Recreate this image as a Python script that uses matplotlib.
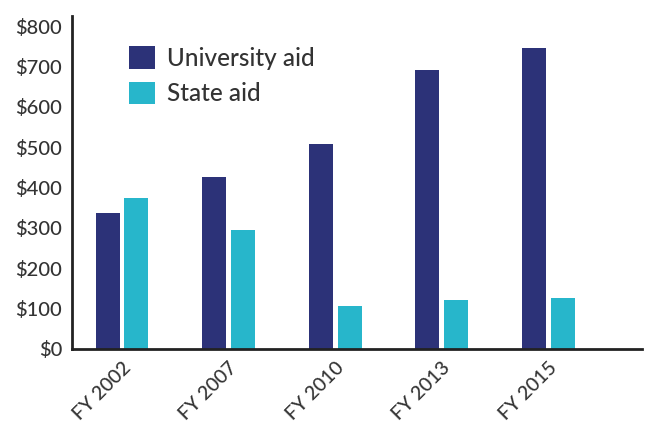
import numpy as np
import matplotlib.pyplot as plt

years = ['FY 2002', 'FY 2007', 'FY 2010', 'FY 2013', 'FY 2015']
university_aid = [337, 427, 509, 691, 746]
state_aid = [374, 294, 107, 122, 127]
y_ticks = [0, 100, 200, 300, 400, 500, 600, 700, 800]

navy = '#2c3278'
cyan = '#27b6cb'
text_color = '#333333'

plt.rcParams['font.family'] = ['Lato', 'DejaVu Sans']

fig = plt.figure(figsize=(6.49, 4.24), dpi=100)
ax = fig.add_axes([72 / 649, 1 - 349 / 424, (642 - 72) / 649, (349 - 16) / 424])

x = np.arange(len(years))
width = 0.225
offset = 0.135
ax.bar(x - offset, university_aid, width, color=navy, label='University aid')
ax.bar(x + offset, state_aid, width, color=cyan, label='State aid')

ax.set_xlim(-0.47, 4.88)
ax.set_ylim(0, 825)
ax.set_yticks(y_ticks)
ax.set_yticklabels([f'${v}' for v in y_ticks], fontsize=14.5, color=text_color,
                   fontweight='medium')
ax.set_xticks(x)
ax.set_xticklabels(years, rotation=45, ha='right', rotation_mode='anchor',
                   fontsize=14, color=text_color, fontweight='medium')
ax.tick_params(length=0, axis='y', pad=7)
ax.tick_params(length=0, axis='x', pad=7)

for s in ('top', 'right'):
    ax.spines[s].set_visible(False)
ax.spines['left'].set_linewidth(2)
ax.spines['bottom'].set_linewidth(2)
ax.spines['left'].set_color('#222222')
ax.spines['bottom'].set_color('#222222')

ax.legend(loc='upper left', bbox_to_anchor=(0.062, 0.975), frameon=False,
          prop={'size': 17.5, 'weight': 'medium'}, handlelength=1.05, handleheight=1.05,
          handletextpad=0.5, labelspacing=0.5, labelcolor=text_color)

fig.savefig('out.png', dpi=100)
